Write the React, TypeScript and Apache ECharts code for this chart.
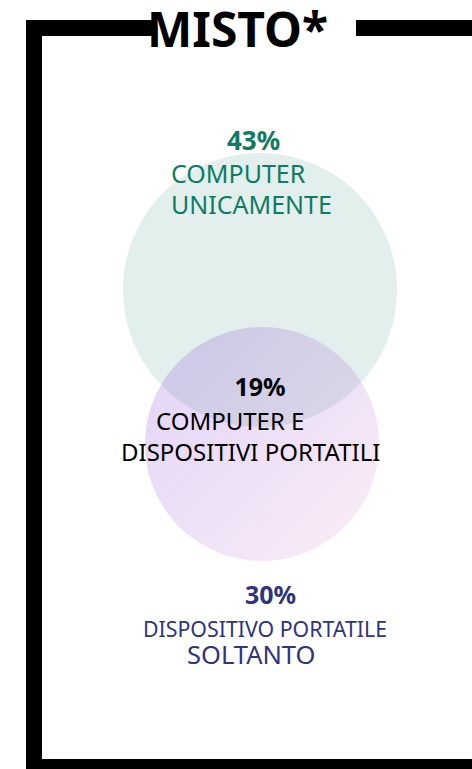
import React, { useEffect, useRef } from "react";
import * as echarts from "echarts";

// ---- data ----
const title = "MISTO*";
const setNames = ["COMPUTER UNICAMENTE", "DISPOSITIVO PORTATILE SOLTANTO"];
const setShares = [43, 30]; // % exclusive to each set
const overlapShare = 19; // % in both
const overlapName = "COMPUTER E DISPOSITIVI PORTATILI";

// ---- layout (chart coordinates, px) ----
const W = 472;
const H = 769;
const circleCenters: [number, number][] = [
  [260, 290],
  [262, 444],
];
const circleDiameters = [274, 234];

const TEAL = "#0f7b63";
const NAVY = "#2e3383";
const FONT = "'Noto Sans', 'Open Sans', sans-serif";

export default function App() {
  const ref = useRef<HTMLDivElement>(null);
  useEffect(() => {
    document.body.style.margin = "0";
    if (!ref.current) return;
    const chart = echarts.init(ref.current, undefined, { renderer: "svg" });

    const txt = (
      text: string,
      x: number,
      y: number,
      size: number,
      weight: string,
      color: string,
      align: string
    ) => ({
      type: "text",
      x,
      y,
      z: 100,
      style: {
        text,
        fill: color,
        font: `${weight} ${size}px ${FONT}`,
        lineHeight: size,
        textAlign: align,
        textVerticalAlign: "middle",
      },
    });

    const [c1a, c1b] = setNames[0].split(" ");
    const [c2a, c2b] = [
      setNames[1].split(" ").slice(0, 2).join(" "),
      setNames[1].split(" ").slice(2).join(" "),
    ];
    const ovA = overlapName.split(" ").slice(0, 2).join(" ");
    const ovB = overlapName.split(" ").slice(2).join(" ");

    chart.setOption({
      animation: false,
      grid: { left: 0, right: 0, top: 0, bottom: 0 },
      xAxis: { type: "value", min: 0, max: W, show: false },
      yAxis: { type: "value", min: 0, max: H, inverse: true, show: false },
      series: [
        {
          type: "scatter",
          symbol: "circle",
          silent: true,
          data: [
            {
              value: circleCenters[0],
              symbolSize: circleDiameters[0],
              itemStyle: { color: TEAL, opacity: 0.12 },
            },
            {
              value: circleCenters[1],
              symbolSize: circleDiameters[1],
              itemStyle: {
                opacity: 0.18,
                color: new echarts.graphic.LinearGradient(0, 0, 1, 1, [
                  { offset: 0, color: "#5a08d0" },
                  { offset: 1, color: "#ea9fce" },
                ]),
              },
            },
          ],
        },
      ],
      graphic: [
        // frame
        { type: "rect", shape: { x: 26, y: 20, width: 128, height: 16 }, style: { fill: "#000" } },
        { type: "rect", shape: { x: 356, y: 20, width: 130, height: 16 }, style: { fill: "#000" } },
        { type: "rect", shape: { x: 26, y: 20, width: 16, height: 760 }, style: { fill: "#000" } },
        { type: "rect", shape: { x: 26, y: 759, width: 460, height: 20 }, style: { fill: "#000" } },
        txt(title, 237.5, 28, 48, "bold", "#000", "center"),
        // set 1
        txt(`${setShares[0]}%`, 253.5, 140, 26, "bold", TEAL, "center"),
        txt(c1a, 171, 172.5, 25, "normal", TEAL, "left"),
        txt(c1b, 171, 203.5, 25, "normal", TEAL, "left"),
        // overlap
        txt(`${overlapShare}%`, 260, 385.5, 25, "bold", "#000", "center"),
        txt(ovA, 156, 420, 24, "normal", "#000", "left"),
        txt(ovB, 121, 451.5, 24, "normal", "#000", "left"),
        // set 2
        txt(`${setShares[1]}%`, 270.5, 594, 25, "bold", NAVY, "center"),
        txt(c2a, 143, 628, 21.3, "normal", NAVY, "left"),
        txt(c2b, 187, 653.5, 25.5, "normal", NAVY, "left"),
      ],
    });
    return () => chart.dispose();
  }, []);
  return <div ref={ref} style={{ width: W, height: H }} />;
}
